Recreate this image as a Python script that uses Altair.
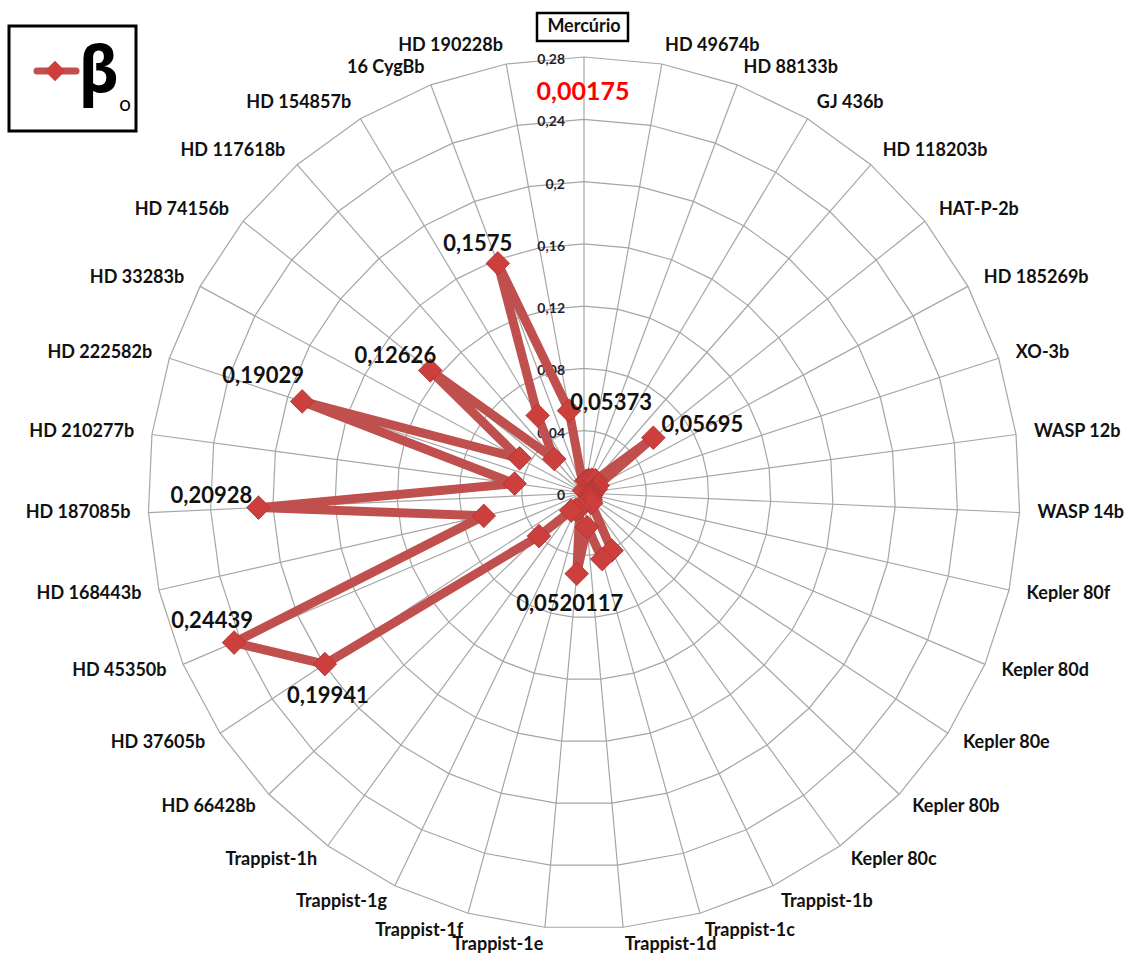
import math
import altair as alt
import pandas as pd

# ---------------- data ----------------
categories = [
    "Mercúrio", "HD 49674b", "HD 88133b", "GJ 436b", "HD 118203b", "HAT-P-2b",
    "HD 185269b", "XO-3b", "WASP 12b", "WASP 14b", "Kepler 80f", "Kepler 80d",
    "Kepler 80e", "Kepler 80b", "Kepler 80c", "Trappist-1b", "Trappist-1c",
    "Trappist-1d", "Trappist-1e", "Trappist-1f", "Trappist-1g", "Trappist-1h",
    "HD 66428b", "HD 37605b", "HD 45350b", "HD 168443b", "HD 187085b",
    "HD 210277b", "HD 222582b", "HD 33283b", "HD 74156b", "HD 117618b",
    "HD 154857b", "16 CygBb", "HD 190228b",
]
values = [
    0.00175, 0.008, 0.009, 0.010, 0.011, 0.05695,
    0.010, 0.008, 0.006, 0.005, 0.005, 0.004,
    0.005, 0.006, 0.008, 0.041, 0.044,
    0.022, 0.0520117, 0.010, 0.012, 0.014,
    0.040, 0.19941, 0.24439, 0.066, 0.20928,
    0.045, 0.19029, 0.047, 0.12626, 0.029,
    0.058, 0.1575, 0.05373,
]
tick_values = [0, 0.04, 0.08, 0.12, 0.16, 0.20, 0.24, 0.28]
tick_labels = ["0", "0,04", "0,08", "0,12", "0,16", "0,2", "0,24", "0,28"]

label_cats = ["16 CygBb", "HD 190228b", "HAT-P-2b", "HD 74156b", "HD 222582b",
              "HD 187085b", "HD 45350b", "HD 37605b", "Trappist-1e"]
label_texts = ["0,1575", "0,05373", "0,05695", "0,12626", "0,19029",
               "0,20928", "0,24439", "0,19941", "0,0520117"]
label_offsets = [(-20, -19), (42, -8), (49, -13), (-35, -14), (-39, -25),
                 (-47, -12), (-22, -22), (3, 32), (-7, 30)]

mercury_text = "0,00175"
legend_symbol = "β"
legend_sub = "o"

# ---------------- layout ----------------
N = len(categories)
RMAX = tick_values[-1]
W, H = 1125, 954
CX, CY, PXR = 584, 493, 436
k = PXR / RMAX
xdom = [-CX / k, (W - CX) / k]
ydom = [-(H - CY) / k, CY / k]
LAB_R = RMAX + 18 / k

LINE_COLOR = "#C0504D"
MARK_COLOR = "#CC3F3C"
GRID_COLOR = "#A6A6A6"
TXT = "#111111"
FONT = "Lato"

xs = alt.Scale(domain=xdom, nice=False, zero=False)
ys = alt.Scale(domain=ydom, nice=False, zero=False)


def X(f):
    return alt.X(f, type="quantitative", scale=xs, axis=None)


def Y(f):
    return alt.Y(f, type="quantitative", scale=ys, axis=None)


theta_expr = f"datum.i * 2 * PI / {N}"

df = pd.DataFrame({"cat": categories, "value": values, "i": list(range(N))})

base = alt.Chart(df).transform_calculate(
    theta=theta_expr
).transform_calculate(
    x="datum.value * sin(datum.theta)",
    y="datum.value * cos(datum.theta)",
)

# grid rings (polygons)
ring_df = pd.DataFrame(
    [{"ring": v, "i": j} for v in tick_values[1:] for j in range(N + 1)]
)
rings = alt.Chart(ring_df).transform_calculate(
    theta=theta_expr
).transform_calculate(
    x="datum.ring * sin(datum.theta)",
    y="datum.ring * cos(datum.theta)",
).mark_line(color=GRID_COLOR, strokeWidth=1.2).encode(
    x=X("x"), y=Y("y"), detail="ring:N", order="i:Q"
)

# spokes
spoke_df = pd.DataFrame({"i": list(range(N))})
spokes = alt.Chart(spoke_df).transform_calculate(
    theta=theta_expr
).transform_calculate(
    x0="0", y0="0",
    x1=f"{RMAX} * sin(datum.theta)",
    y1=f"{RMAX} * cos(datum.theta)",
).mark_rule(color=GRID_COLOR, strokeWidth=1.2).encode(
    x=X("x0"), y=Y("y0"), x2="x1:Q", y2="y1:Q"
)

# tick labels on the vertical axis
tick_df = pd.DataFrame({"v": tick_values, "lab": tick_labels, "z": [0] * len(tick_values)})
ticks = alt.Chart(tick_df).mark_text(
    align="right", baseline="middle", dx=-19, dy=3,
    font=FONT, fontSize=14, fontWeight="bold", color="#1F1F2F"
).encode(x=X("z"), y=Y("v"), text="lab:N")

# data line
line = base.mark_line(
    color=LINE_COLOR, strokeWidth=9, interpolate="linear-closed", strokeJoin="round"
).encode(x=X("x"), y=Y("y"), order="i:Q")

points = base.mark_point(
    shape="diamond", filled=True, size=560, color=MARK_COLOR, opacity=1,
    stroke="#A83432", strokeWidth=0.8
).encode(x=X("x"), y=Y("y"))

# data labels
data_label_layers = []
for c, t, (dx, dy) in zip(label_cats, label_texts, label_offsets):
    data_label_layers.append(
        base.transform_filter(alt.datum.cat == c)
        .transform_calculate(lab=f"'{t}'")
        .mark_text(align="center", baseline="middle", dx=dx, dy=dy,
                   font=FONT, fontSize=22, fontWeight="bold", color=TXT)
        .encode(x=X("x"), y=Y("y"), text="lab:N")
    )

# category labels
cat_base = alt.Chart(df).transform_calculate(
    theta=theta_expr
).transform_calculate(
    lx=f"{LAB_R} * sin(datum.theta)",
    ly=f"{LAB_R} * cos(datum.theta)",
    s="sin(datum.theta)",
)
cat_right = cat_base.transform_filter("datum.s > 0.01").mark_text(
    align="left", baseline="middle", font=FONT, fontSize=18, fontWeight="bold", color=TXT
).encode(x=X("lx"), y=Y("ly"), text="cat:N")
cat_left = cat_base.transform_filter("datum.s < -0.01").mark_text(
    align="right", baseline="middle", font=FONT, fontSize=18, fontWeight="bold", color=TXT
).encode(x=X("lx"), y=Y("ly"), text="cat:N")
cat_top = cat_base.transform_filter("datum.i == 0").mark_text(
    align="center", baseline="middle", dy=-12, font=FONT, fontSize=18,
    fontWeight="bold", color=TXT
).encode(x=X("lx"), y=Y("ly"), text="cat:N")

# box around "Mercúrio"
merc_box = alt.Chart(pd.DataFrame({"a": [0]})).mark_rect(
    fill=None, stroke="black", strokeWidth=2.5
).encode(x=alt.value(537), x2=alt.value(628), y=alt.value(13), y2=alt.value(41))

merc_val = alt.Chart(pd.DataFrame({"t": [mercury_text]})).mark_text(
    align="center", baseline="middle", font=FONT, fontSize=25, fontWeight="bold",
    color="#FF0000"
).encode(x=alt.value(583), y=alt.value(92), text="t:N")

# legend
leg_box = alt.Chart(pd.DataFrame({"a": [0]})).mark_rect(
    fill="white", stroke="black", strokeWidth=3
).encode(x=alt.value(9), x2=alt.value(136), y=alt.value(26), y2=alt.value(131))
leg_line = alt.Chart(pd.DataFrame({"a": [0]})).mark_rule(
    color=LINE_COLOR, strokeWidth=7, strokeCap="round"
).encode(x=alt.value(37), x2=alt.value(76), y=alt.value(71))
leg_pt = alt.Chart(pd.DataFrame({"a": [0]})).mark_point(
    shape="diamond", filled=True, size=420, color=MARK_COLOR, opacity=1
).encode(x=alt.value(55), y=alt.value(71))
leg_beta = alt.Chart(pd.DataFrame({"t": [legend_symbol]})).mark_text(
    align="center", baseline="alphabetic", font="Noto Sans", fontSize=64,
    fontWeight="bold", color="black"
).encode(x=alt.value(99), y=alt.value(92), text="t:N")
leg_sub = alt.Chart(pd.DataFrame({"t": [legend_sub]})).mark_text(
    align="center", baseline="alphabetic", font="Noto Sans", fontSize=20,
    color="black"
).encode(x=alt.value(125), y=alt.value(111), text="t:N")

chart = alt.layer(
    rings, spokes, ticks, line, points, *data_label_layers,
    cat_right, cat_left, cat_top, merc_box, merc_val,
    leg_box, leg_line, leg_pt, leg_beta, leg_sub,
).properties(
    width=W, height=H, autosize=alt.AutoSizeParams(type="none"), padding=0,
    background="white"
).configure_view(stroke=None)

chart.save("out.html", embed_options={"renderer": "svg", "actions": False})
